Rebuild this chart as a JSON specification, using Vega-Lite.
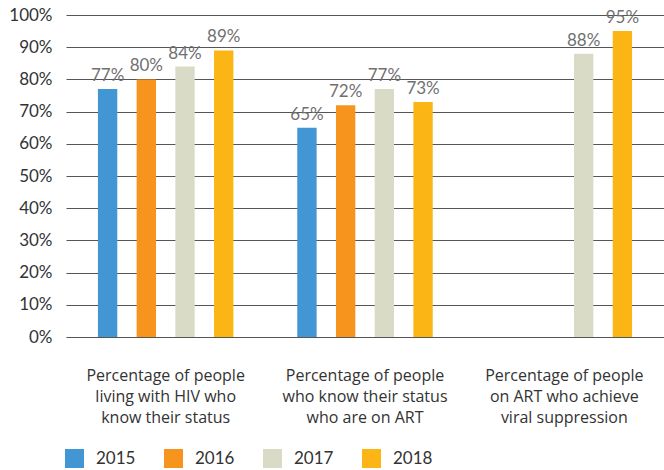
{
  "$schema": "https://vega.github.io/schema/vega-lite/v6.json",
  "width": 598,
  "height": 322,
  "autosize": {"type": "none"},
  "padding": {"left": 66, "top": 15, "right": 0, "bottom": 133},
  "config": {
    "view": {"stroke": null},
    "font": "Lato"
  },
  "data": {
    "values": [
      {"cat": "Percentage of people|living with HIV who|know their status", "year": "2015", "pct": 0.77},
      {"cat": "Percentage of people|living with HIV who|know their status", "year": "2016", "pct": 0.80},
      {"cat": "Percentage of people|living with HIV who|know their status", "year": "2017", "pct": 0.84},
      {"cat": "Percentage of people|living with HIV who|know their status", "year": "2018", "pct": 0.89},
      {"cat": "Percentage of people|who know their status|who are on ART", "year": "2015", "pct": 0.65},
      {"cat": "Percentage of people|who know their status|who are on ART", "year": "2016", "pct": 0.72},
      {"cat": "Percentage of people|who know their status|who are on ART", "year": "2017", "pct": 0.77},
      {"cat": "Percentage of people|who know their status|who are on ART", "year": "2018", "pct": 0.73},
      {"cat": "Percentage of people|on ART who achieve|viral suppression", "year": "2017", "pct": 0.88},
      {"cat": "Percentage of people|on ART who achieve|viral suppression", "year": "2018", "pct": 0.95}
    ]
  },
  "encoding": {
    "x": {
      "field": "cat", "type": "nominal", "sort": null, "title": null,
      "scale": {"paddingInner": 0.2, "paddingOuter": 0.1},
      "axis": {
        "labelExpr": "split(datum.value, '|')",
        "labelAngle": 0, "domain": false, "ticks": false,
        "labelFontSize": 16, "labelColor": "#333333", "labelLineHeight": 21,
        "labelPadding": 30, "labelBaseline": "top", "labelFont": "Open Sans"
      }
    },
    "xOffset": {
      "field": "year", "type": "nominal",
      "scale": {"paddingInner": 0.5, "paddingOuter": 0.31}
    },
    "y": {
      "field": "pct", "type": "quantitative", "title": null,
      "scale": {"domain": [0, 1], "nice": false},
      "axis": {
        "format": ".0%",
        "values": [0, 0.1, 0.2, 0.3, 0.4, 0.5, 0.6, 0.7, 0.8, 0.9, 1],
        "labelOverlap": false,
        "domain": false, "ticks": false,
        "gridColor": "#555555", "gridWidth": 1.2, "gridOpacity": 1,
        "labelFontSize": 17, "labelColor": "#333333", "labelPadding": 14
      }
    }
  },
  "layer": [
    {
      "mark": {"type": "bar"},
      "encoding": {
        "color": {
          "field": "year", "type": "nominal", "title": null,
          "scale": {"domain": ["2015", "2016", "2017", "2018"], "range": ["#4196d3", "#f7941e", "#d9dbc6", "#fbb616"]},
          "legend": {
            "orient": "none", "legendX": -1, "legendY": 434, "direction": "horizontal",
            "symbolType": "square", "symbolSize": 361, "symbolStrokeWidth": 0,
            "labelFontSize": 17, "labelColor": "#333333", "labelOffset": 12,
            "columnPadding": 28
          }
        }
      }
    },
    {
      "mark": {"type": "text", "baseline": "bottom", "dy": -4, "fontSize": 17, "color": "#707070"},
      "encoding": {
        "text": {"field": "pct", "type": "quantitative", "format": ".0%"}
      }
    }
  ]
}
